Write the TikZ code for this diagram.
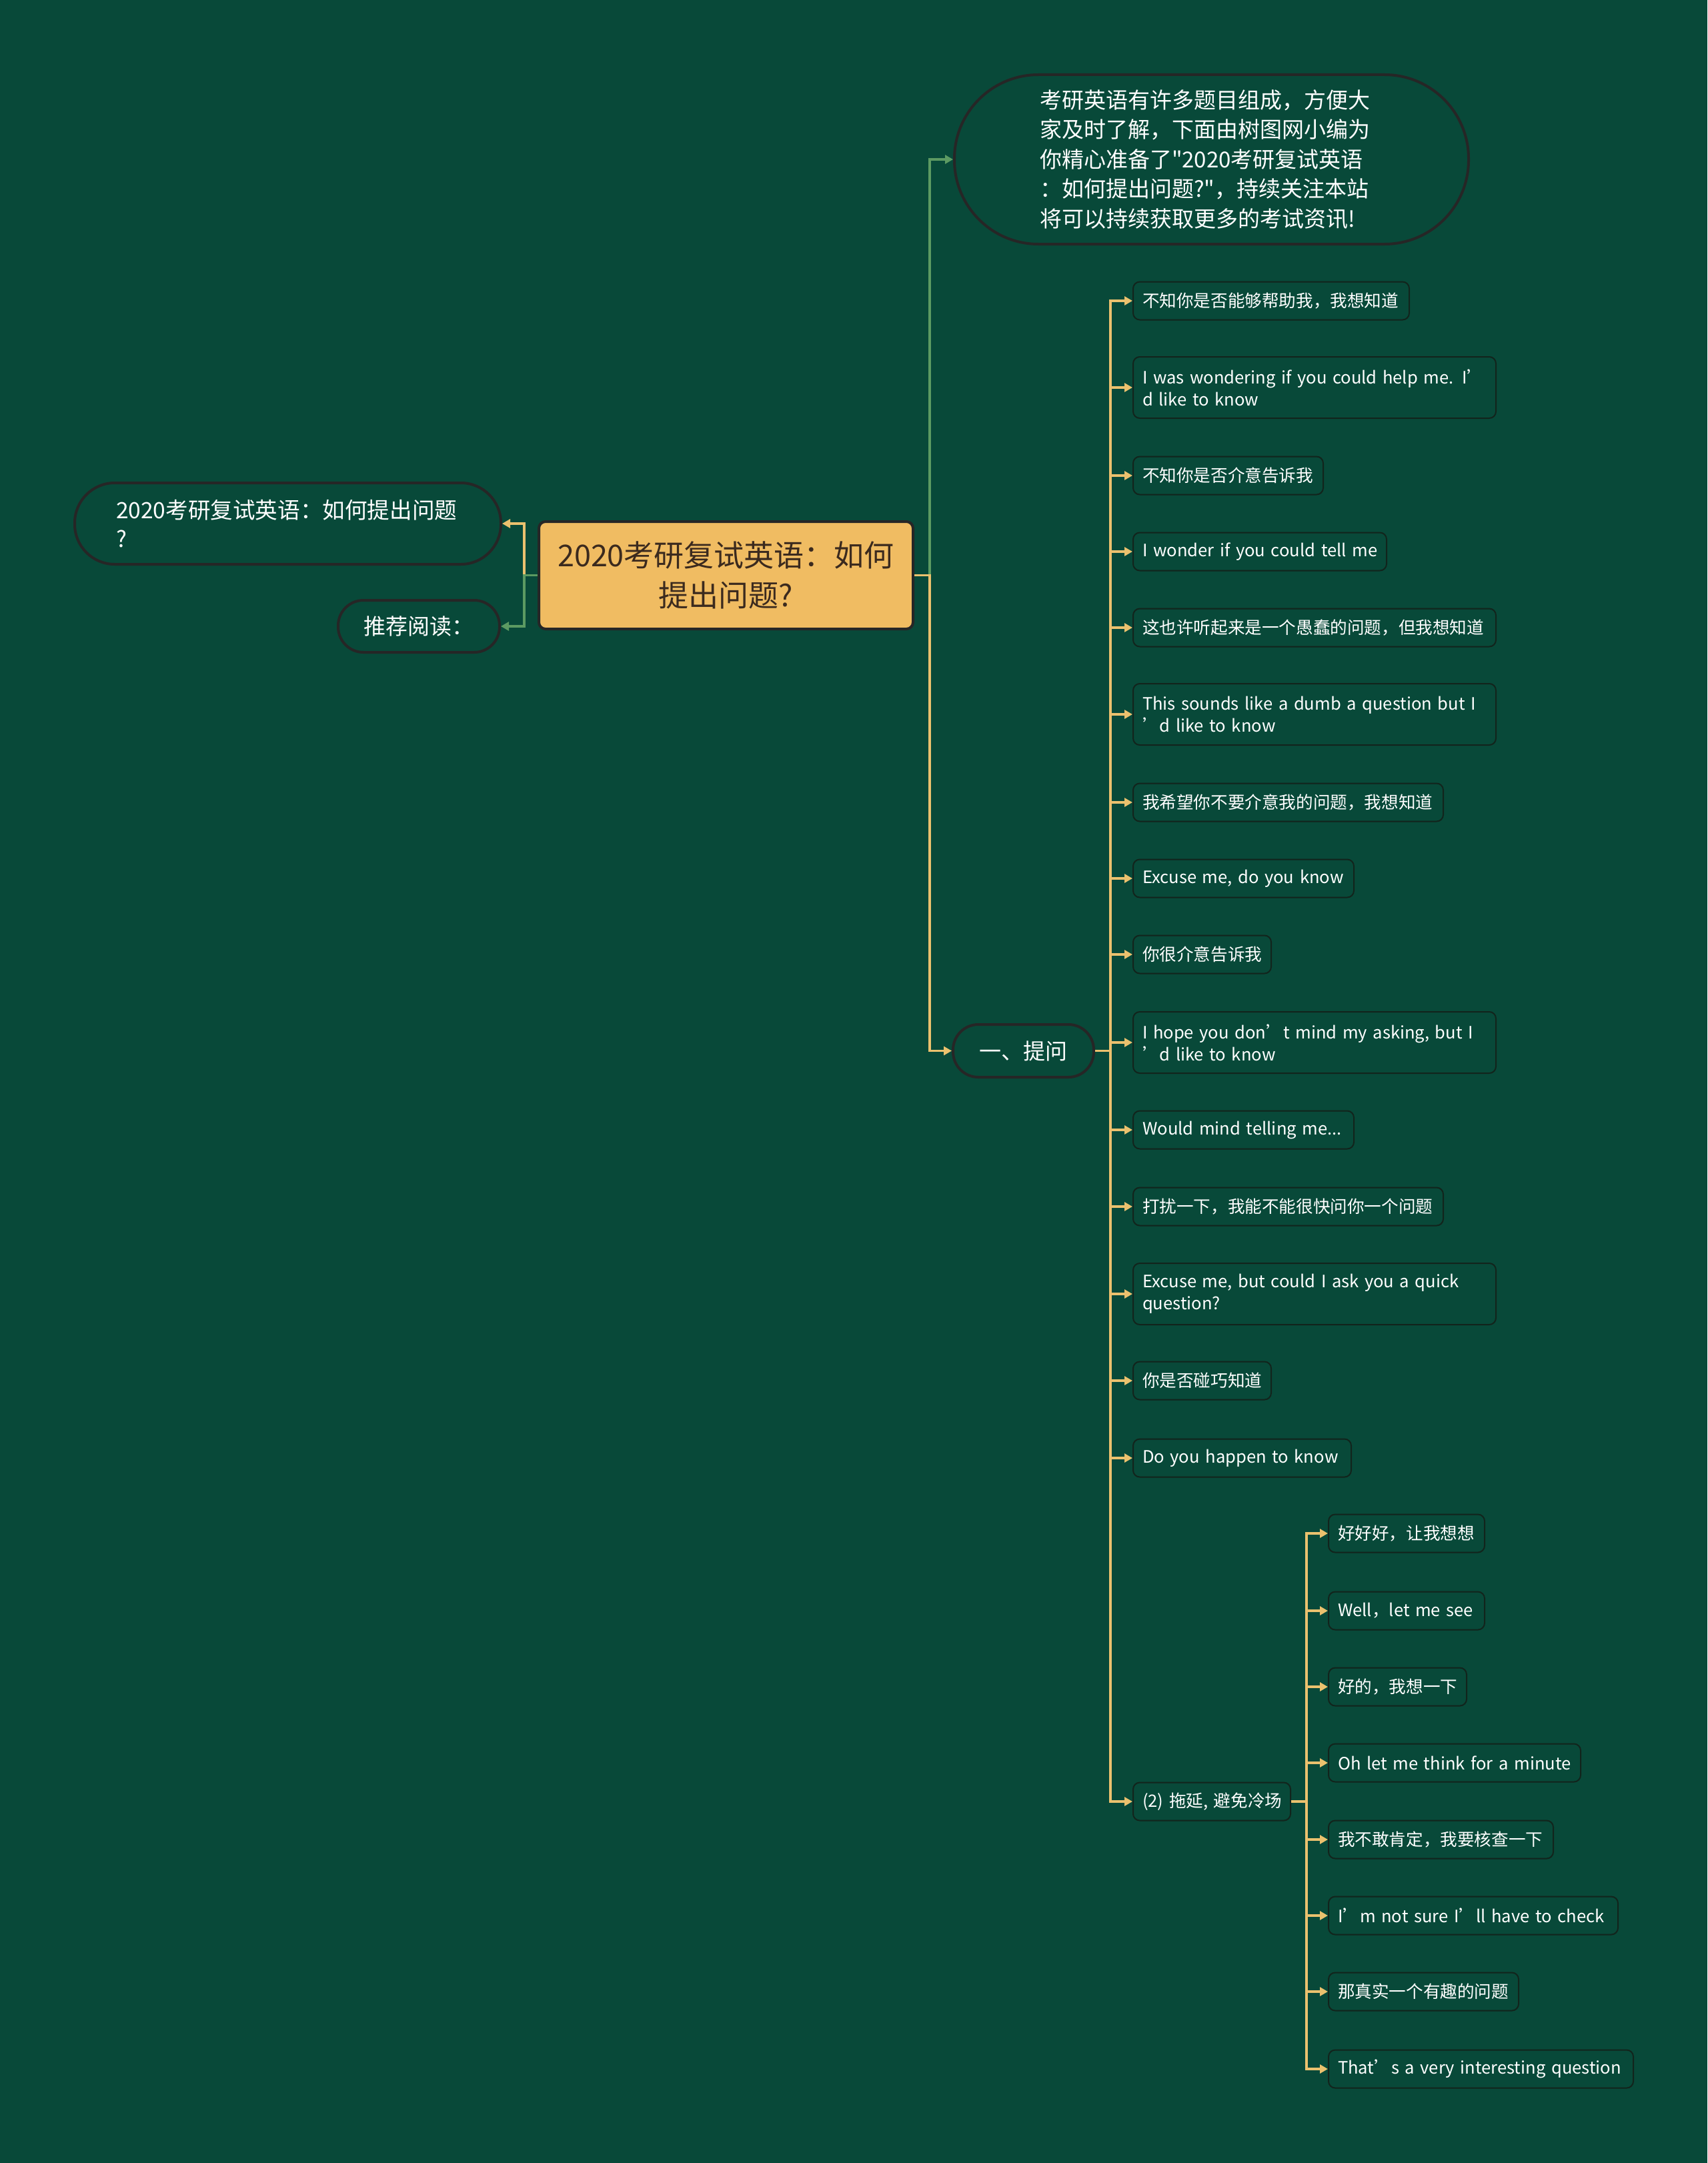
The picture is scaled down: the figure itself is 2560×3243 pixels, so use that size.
\documentclass[tikz,border=0pt]{standalone}
\usepackage{fontspec}
\setmainfont{Noto Sans CJK SC}[Ligatures=TeXOff]
\usetikzlibrary{arrows.meta}
\definecolor{bg}{RGB}{8,73,57}
\definecolor{ylw}{RGB}{235,193,110}
\definecolor{grn}{RGB}{92,154,98}
\definecolor{bord}{RGB}{18,36,28}
\definecolor{ctrfill}{RGB}{240,188,98}
\definecolor{ctrtext}{RGB}{59,42,30}
\tikzset{
  leaf/.style={draw=bord, line width=1pt, fill=bg, rounded corners=5pt, text=white,
    font=\fontsize{12.8pt}{16.5pt}\selectfont, align=left, inner xsep=7pt,
    minimum height=28.5pt, anchor=west, text width=#1},
  pill/.style={draw=black!85, line width=2pt, fill=bg, text=white, rounded corners=19pt},
  ylink/.style={draw=ylw, line width=1.6pt, -{Triangle[length=6pt,width=6.5pt]}},
  glink/.style={draw=grn, line width=1.6pt, -{Triangle[length=6pt,width=6.5pt]}},
}
\begin{document}
\begin{tikzpicture}[x=0.5pt,y=-0.5pt]
\fill[bg] (0,0) rectangle (2560,3243);
\useasboundingbox (0,0) rectangle (2560,3243);

% centre
\node[draw=black!85, line width=2pt, fill=ctrfill, rounded corners=5pt, text=ctrtext,
  font=\fontsize{22.5pt}{30pt}\selectfont, align=center,
  minimum width=280.5pt, minimum height=80.5pt] (c) at (1088.5,862.5)
  {2020考研复试英语：如何\\提出问题?};

% left side
\node[pill, rounded corners=30pt, anchor=west, font=\fontsize{16.8pt}{21.5pt}\selectfont,
  align=left, text width=257.5pt, inner xsep=31pt, minimum height=61pt] (l1) at (110,785)
  {2020考研复试英语：如何提出问题\\?};
\node[pill, font=\fontsize{16.5pt}{20pt}\selectfont, minimum width=121pt,
  minimum height=39pt] (l2) at (628,939) {推荐阅读：};

% description
\node[pill, rounded corners=63pt, anchor=west, font=\fontsize{16.5pt}{22.25pt}\selectfont,
  align=left, text width=257.5pt, inner xsep=64pt, minimum height=127pt] (desc) at (1429,239)
  {考研英语有许多题目组成，方便大\\家及时了解，下面由树图网小编为\\你精心准备了"2020考研复试英语\\：如何提出问题?"，持续关注本站\\将可以持续获取更多的考试资讯!};

% 一、提问
\node[pill, font=\fontsize{16.5pt}{20pt}\selectfont, minimum width=105.5pt,
  minimum height=39.5pt] (q) at (1534.5,1575.5) {一、提问};

% leaves
\node[leaf=193pt] (n1) at (1698,451) {\mbox{不知你是否能够帮助我，我想知道}};
\node[leaf=258pt, minimum height=46pt] (n2) at (1698,581) {I was wondering if you could help me. I’\\d like to know};
\node[leaf=128.5pt] (n3) at (1698,713) {\mbox{不知你是否介意告诉我}};
\node[leaf=176pt] (n4) at (1698,827) {\mbox{I wonder if you could tell me}};
\node[leaf=258pt] (n5) at (1698,941) {\mbox{这也许听起来是一个愚蠢的问题，但我想知道}};
\node[leaf=258pt, minimum height=46pt] (n6) at (1698,1071) {This sounds like a dumb a question but I\\’d like to know};
\node[leaf=218.5pt] (n7) at (1698,1203) {\mbox{我希望你不要介意我的问题，我想知道}};
\node[leaf=151.5pt] (n8) at (1698,1317) {\mbox{Excuse me, do you know}};
\node[leaf=89.5pt] (n9) at (1698,1431) {\mbox{你很介意告诉我}};
\node[leaf=258pt, minimum height=46pt] (n10) at (1698,1563) {I hope you don’t mind my asking, but I\\’d like to know};
\node[leaf=151.5pt] (n11) at (1698,1694) {\mbox{Would mind telling me...}};
\node[leaf=218.5pt] (n12) at (1698,1809) {\mbox{打扰一下，我能不能很快问你一个问题}};
\node[leaf=258pt, minimum height=46pt] (n13) at (1698,1940) {Excuse me, but could I ask you a quick\\question?};
\node[leaf=89.5pt] (n14) at (1698,2070) {\mbox{你是否碰巧知道}};
\node[leaf=149.5pt] (n15) at (1698,2186) {\mbox{Do you happen to know}};
\node[leaf=104pt] (p2) at (1698,2701) {\mbox{(2) 拖延, 避免冷场}};

% sub leaves
\node[leaf=103pt] (s1) at (1991,2299) {\mbox{好好好，让我想想}};
\node[leaf=103pt] (s2) at (1991,2415) {\mbox{Well，let me see}};
\node[leaf=89.5pt] (s3) at (1991,2529) {\mbox{好的，我想一下}};
\node[leaf=175pt] (s4) at (1991,2643) {\mbox{Oh let me think for a minute}};
\node[leaf=154.5pt] (s5) at (1991,2758) {\mbox{我不敢肯定，我要核查一下}};
\node[leaf=203pt] (s6) at (1991,2872) {\mbox{I’m not sure I’ll have to check}};
\node[leaf=128.5pt] (s7) at (1991,2986) {\mbox{那真实一个有趣的问题}};
\node[leaf=214.5pt] (s8) at (1991,3102) {\mbox{That’s a very interesting question}};

% connectors
\draw[ylink] (c.west) -- ++(-20,0) |- (l1.east);
\draw[glink] (c.west) -- ++(-20,0) |- (l2.east);
\draw[glink] (c.east) -- ++(23,0) |- (desc.west);
\draw[ylink] (c.east) -- ++(23,0) |- (q.west);
\foreach \n in {n1,n2,n3,n4,n5,n6,n7,n8,n9,n10,n11,n12,n13,n14,n15,p2}
  \draw[ylink] (q.east) -- ++(23,0) |- (\n.west);
\foreach \n in {s1,s2,s3,s4,s5,s6,s7,s8}
  \draw[ylink] (p2.east) -- ++(23,0) |- (\n.west);
\end{tikzpicture}
\end{document}
